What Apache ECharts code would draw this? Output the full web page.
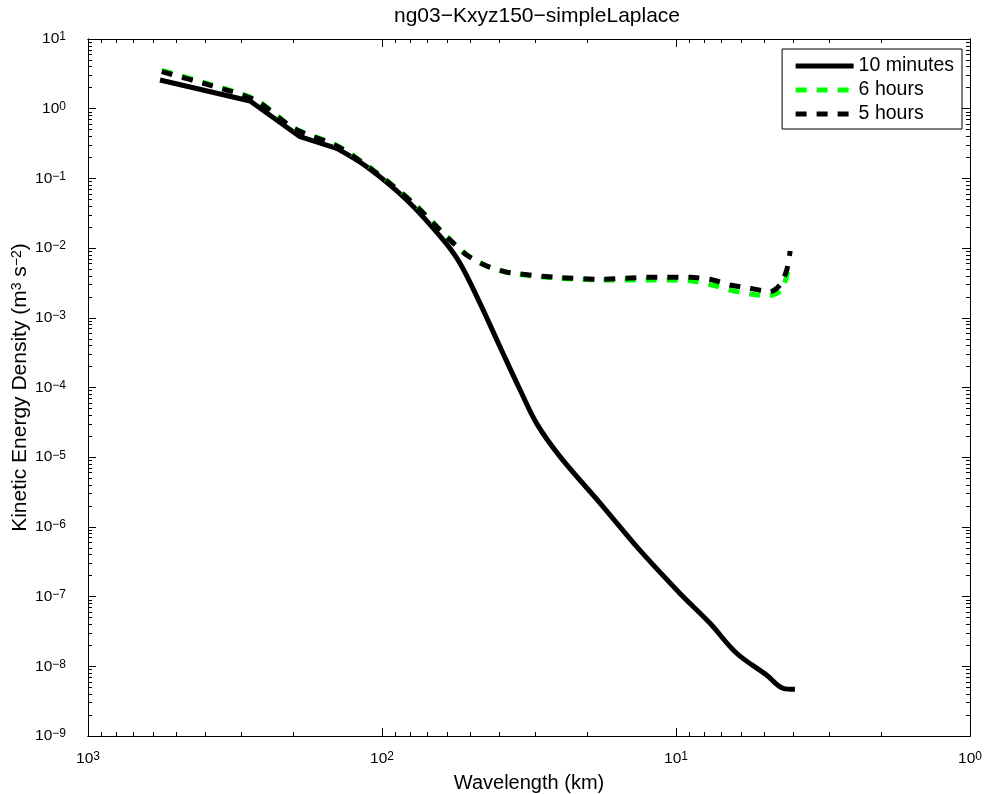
<!DOCTYPE html>
<html>
<head>
<meta charset="utf-8">
<script src="https://cdn.jsdelivr.net/npm/echarts@6/dist/echarts.min.js"></script>
<style>
html,body{margin:0;padding:0;background:#fff;}
#chart{width:985px;height:794px;}
</style>
</head>
<body>
<div id="chart"></div>
<script>
// ---- data ----
const titleText = 'ng03\u2212Kxyz150\u2212simpleLaplace';
const seriesNames = ['10 minutes', '6 hours', '5 hours'];

// 10 minutes: coarse (piecewise) part, then smooth part (shared point at 142.6)
const wl10min = [569, 281, 190, 142.6, 112.7, 82.4, 61.9, 54.3, 46.4, 39.7, 33.9, 29.8, 24.8, 18.1, 13.3, 9.69, 7.66, 6.22, 4.92, 4.32, 3.94];
const ke10min = [2.58, 1.29, 0.396, 0.270, 0.147, 0.049, 0.0131, 0.00605, 0.00161, 3.85e-4, 9.2e-5, 3.06e-5, 1.02e-5, 2.18e-6, 4.67e-7, 1.11e-7, 4.14e-8, 1.54e-8, 7.5e-9, 4.83e-9, 4.68e-9];
const coarseEnd10min = 3; // index where the smooth part starts

const wl6h = [561, 380, 270, 200, 141, 104, 78.3, 59.5, 51.5, 44.0, 36.7, 25.5, 17.7, 12.6, 8.96, 7.66, 6.55, 5.60, 4.85, 4.38, 4.15, 4.09];
const ke6h = [3.55, 2.2, 1.36, 0.53, 0.29, 0.12, 0.0445, 0.0140, 0.0080, 0.0055, 0.0044, 0.0037, 0.0035, 0.0035, 0.0034, 0.0030, 0.0025, 0.0022, 0.00206, 0.0025, 0.00485, 0.0061];

const wl5h = [561, 380, 270, 200, 141, 104, 78.3, 59.5, 51.5, 44.0, 36.7, 25.5, 17.7, 12.6, 8.96, 7.66, 6.55, 5.60, 4.79, 4.43, 4.20, 4.09];
const ke5h = [3.40, 2.14, 1.33, 0.524, 0.285, 0.118, 0.0439, 0.0138, 0.00796, 0.00553, 0.00444, 0.00381, 0.00357, 0.00381, 0.00381, 0.00357, 0.00296, 0.00265, 0.00237, 0.00296, 0.00485, 0.00908];

// tick labels (powers of ten)
const xTickExps = [0, 1, 2, 3];
const yTickExps = [-9, -8, -7, -6, -5, -4, -3, -2, -1, 0, 1];

// ---- helpers ----
const pair = (xs, ys) => xs.map((x, i) => [x, ys[i]]);
const major = exps => exps.map(e => Math.pow(10, e));
const minor = exps => {
  const out = [];
  for (let i = 0; i < exps.length - 1; i++) {
    for (let m = 2; m <= 9; m++) out.push(m * Math.pow(10, exps[i]));
  }
  return out;
};
const expLabel = v => {
  const e = Math.round(Math.log10(v));
  return '{b|10}{s|' + (e < 0 ? '\u2212' + (-e) : e) + '}';
};

const FONT = '"Liberation Sans", Arial, Helvetica, sans-serif';
const richTick = {
  b: { fontSize: 15.5, fontFamily: FONT, color: '#000', lineHeight: 16, verticalAlign: 'bottom', padding: [6, 0, 0, 0] },
  s: { fontSize: 12, fontFamily: FONT, color: '#000', lineHeight: 12, verticalAlign: 'top' }
};
const axLine = { show: true, lineStyle: { color: '#000', width: 1 } };

function xAxisDef(pos, isMajor, extra) {
  const vals = isMajor ? major(xTickExps) : minor(xTickExps);
  return Object.assign({
    type: 'log', logBase: 10, inverse: true,
    min: Math.pow(10, xTickExps[0]), max: Math.pow(10, xTickExps[xTickExps.length - 1]),
    position: pos,
    axisLine: axLine,
    axisTick: { show: true, inside: true, length: isMajor ? 8 : 4, customValues: vals, lineStyle: { color: '#000', width: 1 } },
    axisLabel: { show: false },
    splitLine: { show: false },
    minorTick: { show: false }
  }, extra || {});
}
function yAxisDef(pos, isMajor, extra) {
  const vals = isMajor ? major(yTickExps) : minor(yTickExps);
  return Object.assign({
    type: 'log', logBase: 10,
    min: Math.pow(10, yTickExps[0]), max: Math.pow(10, yTickExps[yTickExps.length - 1]),
    position: pos,
    axisLine: axLine,
    axisTick: { show: true, inside: true, length: isMajor ? 8 : 4, customValues: vals, lineStyle: { color: '#000', width: 1 } },
    axisLabel: { show: false },
    splitLine: { show: false },
    minorTick: { show: false }
  }, extra || {});
}

const chart = echarts.init(document.getElementById('chart'), null, { renderer: 'canvas' });

const solidStyle = { color: '#000', width: 5, type: 'solid', join: 'round', cap: 'butt' };

const option = {
  animation: false,
  backgroundColor: '#fff',
  title: {
    text: titleText, left: 532, top: 1, textAlign: 'center',
    textStyle: { fontFamily: FONT, fontSize: 21, fontWeight: 'normal', color: '#000' }
  },
  grid: { left: 88, right: 15, top: 39, bottom: 58, containLabel: false, outerBoundsMode: 'none' },
  legend: {
    data: seriesNames, orient: 'vertical', right: 23, top: 49,
    backgroundColor: '#fff', borderColor: '#000', borderWidth: 1, borderRadius: 0,
    padding: [7, 8, 5, 11], itemGap: 4, itemWidth: 58, itemHeight: 14,
    itemStyle: { opacity: 0 },
    lineStyle: { width: 5 },
    textStyle: { fontFamily: FONT, fontSize: 19.5, color: '#000' }
  },
  xAxis: [
    xAxisDef('bottom', true, {
      axisLabel: { show: true, customValues: major(xTickExps), margin: 15, formatter: expLabel, rich: richTick },
      name: 'Wavelength (km)', nameLocation: 'middle', nameGap: 37,
      nameTextStyle: { fontFamily: FONT, fontSize: 20, color: '#000' }
    }),
    xAxisDef('bottom', false),
    xAxisDef('top', true),
    xAxisDef('top', false)
  ],
  yAxis: [
    yAxisDef('left', true, {
      axisLabel: { show: true, customValues: major(yTickExps), margin: 22, formatter: expLabel, rich: richTick },
      name: '{n|Kinetic Energy Density (m}{s|3}{n| s}{s|\u22122}{n|)}',
      nameLocation: 'middle', nameGap: 57, nameRotate: 90, nameMoveOverlap: false,
      nameTextStyle: {
        fontFamily: FONT, fontSize: 21, color: '#000',
        rich: {
          n: { fontSize: 21, fontFamily: FONT, color: '#000', lineHeight: 21, verticalAlign: 'bottom', padding: [6, 0, 0, 0] },
          s: { fontSize: 14, fontFamily: FONT, color: '#000', lineHeight: 14, verticalAlign: 'top' }
        }
      }
    }),
    yAxisDef('left', false),
    yAxisDef('right', true),
    yAxisDef('right', false)
  ],
  series: [
    {
      name: seriesNames[0], type: 'line', xAxisIndex: 0, yAxisIndex: 0,
      data: pair(wl10min, ke10min).slice(0, coarseEnd10min + 1), symbol: 'none', showSymbol: false,
      lineStyle: solidStyle, itemStyle: { color: '#000' }, z: 2
    },
    {
      name: seriesNames[0], type: 'line', xAxisIndex: 0, yAxisIndex: 0,
      data: pair(wl10min, ke10min).slice(coarseEnd10min), symbol: 'none', showSymbol: false,
      smooth: 0.35,
      lineStyle: solidStyle, itemStyle: { color: '#000' }, z: 2
    },
    {
      name: seriesNames[1], type: 'line', xAxisIndex: 0, yAxisIndex: 0,
      data: pair(wl6h, ke6h), symbol: 'none', showSymbol: false, smooth: 0.25,
      lineStyle: { color: '#00ff00', width: 5, type: [11, 10], cap: 'butt' },
      itemStyle: { color: '#00ff00' }, z: 3
    },
    {
      name: seriesNames[2], type: 'line', xAxisIndex: 0, yAxisIndex: 0,
      data: pair(wl5h, ke5h), symbol: 'none', showSymbol: false, smooth: 0.25,
      lineStyle: { color: '#000', width: 5, type: [11, 10], cap: 'butt' },
      itemStyle: { color: '#000' }, z: 4
    }
  ]
};
chart.setOption(option);
</script>
</body>
</html>
